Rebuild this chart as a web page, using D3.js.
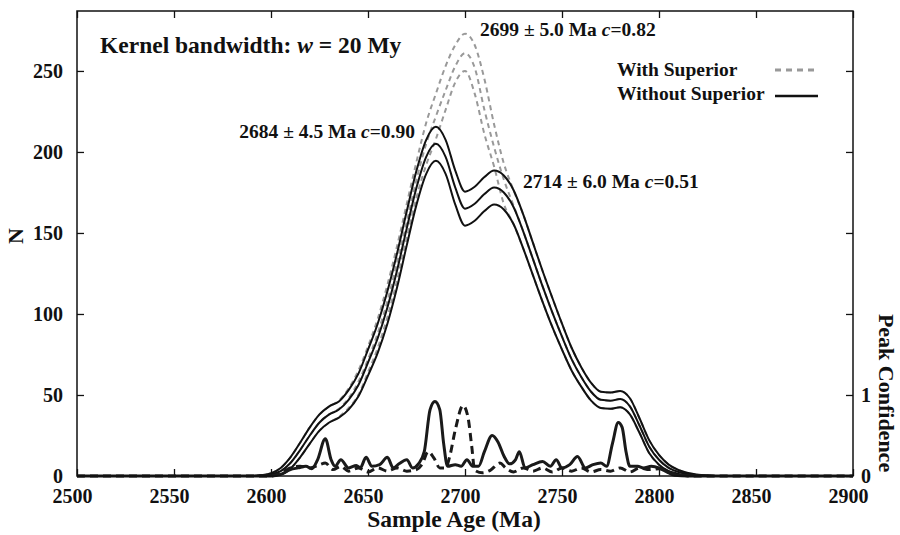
<!DOCTYPE html>

<head>

    <meta charset="utf-8">

    <script src="https://d3js.org/d3.v7.min.js"></script>

    <style>
    body {
        margin: 0;
        background: #fff;
    }

    svg {
        font-family: "Liberation Serif", "Times New Roman", serif;
        font-weight: bold;
    }

    .axis path {
        display: none;
    }

    .axis line {
        stroke: #111;
        stroke-width: 1.3;
    }

    .axis text {
        font-family: "Liberation Serif", serif;
        font-weight: bold;
        font-size: 20px;
        fill: #111;
    }

    .kde {
        fill: none;
        stroke: #111;
        stroke-width: 2;
    }

    .kde-sup {
        fill: none;
        stroke: #999;
        stroke-width: 2;
        stroke-dasharray: 5, 4;
    }

    .conf {
        fill: none;
        stroke: #1a1a1a;
        stroke-width: 3;
    }

    .conf-sup {
        fill: none;
        stroke: #1a1a1a;
        stroke-width: 3;
        stroke-dasharray: 8, 5;
    }

    .label {
        fill: #111;
    }
    </style>

</head>

<body>

    <script>
    // kernel density, sampled every 5 Ma between 2590 and 2830
    var ages = [2500, 2590, 2595, 2600, 2605, 2610, 2615, 2620, 2625, 2630, 2635, 2640, 2645, 2650, 2655, 2660, 2665, 2670, 2675, 2680, 2685, 2690, 2695, 2700, 2705, 2710, 2715, 2720, 2725, 2730, 2735, 2740, 2745, 2750, 2755, 2760, 2765, 2770, 2775, 2780, 2785, 2790, 2795, 2800, 2805, 2810, 2815, 2820, 2825, 2830, 2900];

    var withoutMid = [0, 0, 0.3, 1, 3, 8, 16, 25, 33, 38, 41, 47, 56, 70, 85, 104, 127, 153, 178, 197, 205, 197, 178, 165, 168, 174, 178, 175, 166, 151, 134, 117, 101, 86, 72, 61, 52, 47, 46.5, 47.5, 43, 31, 18, 10, 5, 2.5, 1.2, 0.5, 0.2, 0, 0];
    var withoutHi = [0, 0, 0.5, 1.7, 5, 11.5, 20.5, 30, 38, 43, 46, 53, 63, 78, 94, 114, 137.5, 163.5, 188.5, 207.5, 215.5, 207.5, 188.5, 175.5, 178.5, 184.5, 188.5, 185.5, 176.5, 161.5, 144, 126.5, 110, 94, 79, 67, 57.5, 52, 51.5, 52.5, 48, 35.5, 22, 13, 7, 3.7, 1.8, 0.8, 0.3, 0, 0];
    var withoutLo = [0, 0, 0.1, 0.3, 1, 4.5, 11.5, 20, 28, 33, 36, 41, 49, 62, 76, 94, 116.5, 142.5, 167.5, 186.5, 194.5, 186.5, 167.5, 154.5, 157.5, 163.5, 167.5, 164.5, 155.5, 140.5, 124, 107.5, 92, 78, 65, 55, 46.5, 42, 41.5, 42.5, 38, 26.5, 14, 7, 3, 1.3, 0.6, 0.2, 0.1, 0, 0];

    var withMid = [0, 0, 0.3, 1, 3, 8, 16, 25, 33, 38, 41.5, 48, 58, 72, 88, 108, 132, 157, 183, 205, 222, 238, 253, 261, 252, 226, 203, 183, 167, 151, 134, 117, 101, 86, 72, 61, 52, 47, 46.5, 47.5, 43, 31, 18, 10, 5, 2.5, 1.2, 0.5, 0.2, 0, 0];
    var withHi = [0, 0, 0.5, 1.7, 5, 11.5, 20.5, 30, 38, 43, 46.5, 54, 65, 80, 97, 118, 142, 168, 194, 218, 236, 253, 266, 273, 266, 245, 217, 193, 176.5, 161.5, 144, 126.5, 110, 94, 79, 67, 57.5, 52, 51.5, 52.5, 48, 35.5, 22, 13, 7, 3.7, 1.8, 0.8, 0.3, 0, 0];
    var withLo = [0, 0, 0.1, 0.3, 1, 4.5, 11.5, 20, 28, 33, 36.5, 42, 50, 64, 79, 98, 121, 147, 172, 192, 208, 226, 243, 250, 236, 211, 191, 168, 155.5, 140.5, 124, 107.5, 92, 78, 65, 55, 46.5, 42, 41.5, 42.5, 38, 26.5, 14, 7, 3, 1.3, 0.6, 0.2, 0.1, 0, 0];

    // peak confidence (right axis)
    var confAgesWithout = [2500, 2600, 2605, 2610, 2614, 2618, 2621, 2624, 2628, 2631, 2633, 2636, 2640, 2644, 2646, 2649, 2652, 2656, 2660, 2663, 2666, 2670, 2673, 2676, 2679, 2682, 2684.5, 2687, 2689, 2691, 2695, 2698, 2701, 2704, 2707, 2710, 2714, 2717, 2720, 2723, 2726, 2728, 2731, 2735, 2740, 2744, 2747, 2750, 2754, 2758, 2762, 2766, 2770, 2773, 2776, 2779, 2781, 2783, 2785, 2789, 2792, 2796, 2800, 2804, 2808, 2815, 2900];
    var confWithout = [0, 0, 0.02, 0.08, 0.1, 0.12, 0.09, 0.2, 0.46, 0.2, 0.12, 0.2, 0.1, 0.13, 0.1, 0.23, 0.12, 0.14, 0.23, 0.1, 0.15, 0.2, 0.1, 0.15, 0.3, 0.82, 0.92, 0.82, 0.4, 0.12, 0.14, 0.12, 0.2, 0.12, 0.12, 0.3, 0.5, 0.42, 0.25, 0.15, 0.2, 0.3, 0.1, 0.14, 0.18, 0.12, 0.2, 0.1, 0.14, 0.24, 0.1, 0.14, 0.16, 0.12, 0.4, 0.66, 0.6, 0.3, 0.12, 0.12, 0.1, 0.12, 0.1, 0.05, 0.01, 0, 0];

    var confAgesWith = [2500, 2600, 2605, 2610, 2615, 2620, 2625, 2628, 2632, 2636, 2640, 2645, 2650, 2655, 2660, 2665, 2670, 2675, 2678, 2681, 2684, 2687, 2690, 2692, 2695, 2699, 2701.5, 2703.5, 2705, 2709, 2713, 2718, 2721, 2725, 2730, 2735, 2740, 2745, 2750, 2755, 2760, 2765, 2770, 2775, 2780, 2785, 2790, 2795, 2800, 2805, 2810, 2815, 2900];
    var confWith = [0, 0, 0.03, 0.1, 0.12, 0.1, 0.14, 0.16, 0.08, 0.12, 0.06, 0.1, 0.05, 0.1, 0.06, 0.1, 0.06, 0.08, 0.15, 0.3, 0.22, 0.1, 0.1, 0.23, 0.57, 0.87, 0.73, 0.36, 0.07, 0.04, 0.07, 0.16, 0.1, 0.05, 0.1, 0.06, 0.1, 0.05, 0.1, 0.06, 0.1, 0.05, 0.08, 0.06, 0.1, 0.05, 0.1, 0.08, 0.09, 0.05, 0.02, 0, 0];

    var xTicks = [2500, 2550, 2600, 2650, 2700, 2750, 2800, 2850, 2900];
    var yTicks = [0, 50, 100, 150, 200, 250];
    var y2Ticks = [0, 1, 2, 3, 4, 5];
    var y2Labels = ["0", "1", "", "", "", ""];

    var margin = {
        top: 11,
        right: 47,
        bottom: 59,
        left: 77
    };

    var width = 900 - margin.left - margin.right;
    var height = 535 - margin.top - margin.bottom;

    var svg = d3.select("body").append("svg")
        .attr("width", 900)
        .attr("height", 535)
        .append("g")
        .attr("transform", "translate(" + margin.left + "," + margin.top + ")");

    var x = d3.scaleLinear()
        .domain([2500, 2900])
        .range([0, width]);

    var y = d3.scaleLinear()
        .domain([0, 287])
        .range([height, 0]);

    // 1 unit of confidence = 50 on the left axis
    var y2 = d3.scaleLinear()
        .domain([0, 287 / 50])
        .range([height, 0]);

    function pairs(xs, ys) {
        return xs.map(function(a, i) { return [a, ys[i]]; });
    }

    var kdeLine = d3.line()
        .x(function(d) { return x(d[0]); })
        .y(function(d) { return y(d[1]); })
        .curve(d3.curveMonotoneX);

    var confLine = d3.line()
        .x(function(d) { return x(d[0]); })
        .y(function(d) { return y2(d[1]); })
        .curve(d3.curveMonotoneX);

    // axes, ticks pointing inward
    svg.append("g")
        .attr("class", "axis axis--x")
        .attr("transform", "translate(0," + height + ")")
        .call(d3.axisBottom(x).tickValues(xTicks).tickSize(-7).tickPadding(13).tickFormat(d3.format("d")))
        .selectAll("text")
        .attr("dx", -5);

    svg.append("g")
        .attr("class", "axis")
        .call(d3.axisTop(x).tickValues(xTicks).tickSize(-7).tickFormat(""));

    svg.append("g")
        .attr("class", "axis axis--y")
        .call(d3.axisLeft(y).tickValues(yTicks).tickSize(-7).tickPadding(14));

    svg.append("g")
        .attr("class", "axis axis--y2")
        .attr("transform", "translate(" + width + ",0)")
        .call(d3.axisRight(y2).tickValues(y2Ticks).tickSize(-7).tickPadding(8)
            .tickFormat(function(d, i) { return y2Labels[i]; }));

    // with Superior (grey dashed), drawn below
    [withHi, withMid, withLo].forEach(function(s) {
        svg.append("path")
            .attr("class", "kde-sup")
            .attr("d", kdeLine(pairs(ages, s)));
    });

    [withoutHi, withoutMid, withoutLo].forEach(function(s) {
        svg.append("path")
            .attr("class", "kde")
            .attr("d", kdeLine(pairs(ages, s)));
    });

    svg.append("path")
        .attr("class", "conf-sup")
        .attr("d", confLine(pairs(confAgesWith, confWith)));

    svg.append("path")
        .attr("class", "conf")
        .attr("d", confLine(pairs(confAgesWithout, confWithout)));

    svg.append("rect")
        .attr("width", width)
        .attr("height", height)
        .style("fill", "none")
        .style("stroke", "#111")
        .style("stroke-width", 1.5);

    // title inside the plot
    var t = svg.append("text")
        .attr("class", "label")
        .attr("x", 23)
        .attr("y", 42)
        .style("font-size", "23.5px");
    t.append("tspan").text("Kernel bandwidth: ");
    t.append("tspan").style("font-style", "italic").text("w");
    t.append("tspan").text(" = 20 My");

    // peak annotations
    function note(xp, yp, anchor, txt, c) {
        var n = svg.append("text")
            .attr("class", "label")
            .attr("x", xp)
            .attr("y", yp)
            .style("text-anchor", anchor)
            .style("font-size", "19.5px");
        n.append("tspan").text(txt + " ");
        n.append("tspan").style("font-style", "italic").text("c");
        n.append("tspan").text("=" + c);
    }
    note(338, 127, "end", "2684 \u00b1 4.5 Ma", "0.90");
    note(403, 25, "start", "2699 \u00b1 5.0 Ma", "0.82");
    note(446, 177, "start", "2714 \u00b1 6.0 Ma", "0.51");

    // legend
    svg.append("text")
        .attr("class", "label")
        .attr("x", 540)
        .attr("y", 65)
        .style("font-size", "19.5px")
        .text("With Superior");
    svg.append("text")
        .attr("class", "label")
        .attr("x", 540)
        .attr("y", 89)
        .style("font-size", "19.5px")
        .text("Without Superior");
    svg.append("line")
        .attr("x1", 698).attr("x2", 741)
        .attr("y1", 59).attr("y2", 59)
        .style("stroke", "#999")
        .style("stroke-width", 3)
        .style("stroke-dasharray", "6,5");
    svg.append("line")
        .attr("x1", 698).attr("x2", 741)
        .attr("y1", 85).attr("y2", 85)
        .style("stroke", "#111")
        .style("stroke-width", 2.5);

    // axis titles
    svg.append("text")
        .attr("class", "label")
        .attr("transform", "rotate(-90)")
        .attr("x", -225)
        .attr("y", -54)
        .style("text-anchor", "middle")
        .style("font-size", "22px")
        .text("N");

    svg.append("text")
        .attr("class", "label")
        .attr("x", 377)
        .attr("y", height + 51)
        .style("text-anchor", "middle")
        .style("font-size", "23.5px")
        .text("Sample Age (Ma)");

    svg.append("text")
        .attr("class", "label")
        .attr("transform", "translate(" + (width + 26) + "," + 382 + ") rotate(90)")
        .style("text-anchor", "middle")
        .style("font-size", "22px")
        .text("Peak Confidence");
    </script>

</body>
